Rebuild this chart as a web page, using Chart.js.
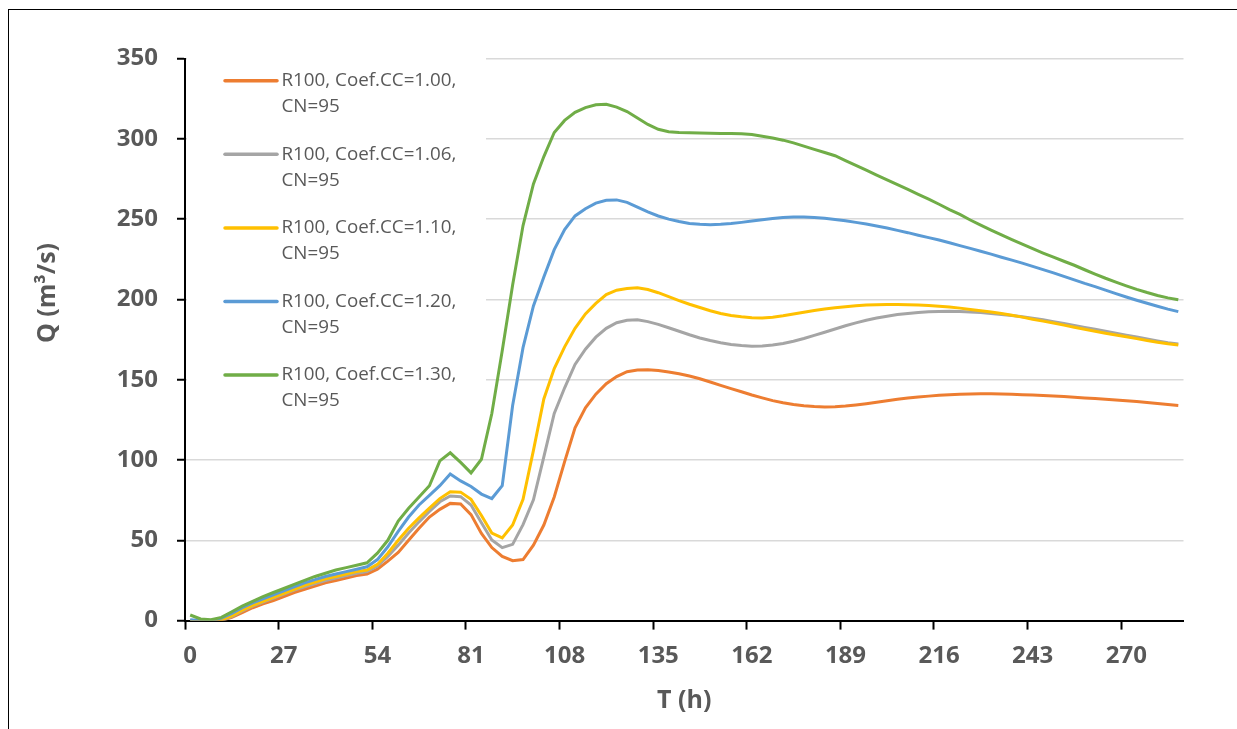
<!DOCTYPE html>
<html>
<head>
<meta charset="utf-8">
<script src="https://cdn.jsdelivr.net/npm/chart.js@4.4.1/dist/chart.umd.min.js"></script>
<style>
  html, body { margin: 0; padding: 0; background: #fff; }
  #wrap { position: relative; width: 1237px; height: 729px; overflow: hidden; }
  #chart { position: absolute; left: 0; top: 0; }
  #frame { position: absolute; left: 8px; top: 9px; right: -4px; bottom: -4px;
           border-left: 1.5px solid #000; border-top: 1.5px solid #000; pointer-events: none; }
</style>
</head>
<body>
<div id="wrap"><canvas id="chart" width="1237" height="729"></canvas><div id="frame"></div></div>
<script>
// time steps (h), one point every 3 h
const hours = [0,3,6,9,12,15,18,21,24,27,30,33,36,39,42,45,48,51,54,57,60,63,66,69,72,75,78,81,84,87,
  90,93,96,99,102,105,108,111,114,117,120,123,126,129,132,135,138,141,144,147,150,153,156,159,162,165,168,171,174,177,
  180,183,186,189,192,195,198,201,204,207,210,213,216,219,222,225,228,231,234,237,240,243,246,249,252,255,258,261,264,267,
  270,273,276,279,282,285];

const seriesNames = [
  "R100, Coef.CC=1.00, CN=95",
  "R100, Coef.CC=1.06, CN=95",
  "R100, Coef.CC=1.10, CN=95",
  "R100, Coef.CC=1.20, CN=95",
  "R100, Coef.CC=1.30, CN=95"
];
const seriesColors = ["#ED7D31", "#A5A5A5", "#FFC000", "#5B9BD5", "#70AD47"];

const q100 = [0,0,0,0,2,5,8,10.5,12.5,15,
  17.5,19.5,21.5,23.5,25,26.5,28,29,32,37,
  42.5,50,57.5,64.5,69.3,73,72.6,66,54.3,45.5,
  40,37.3,38,47,59.5,77,99,120,132.5,141,
  147.5,152,155,156,156.2,155.7,154.8,153.7,152.3,150.6,
  148.6,146.5,144.5,142.5,140.5,138.7,137,135.7,134.6,133.8,
  133.3,133.1,133.2,133.6,134.3,135.1,136,136.9,137.8,138.6,
  139.3,139.8,140.3,140.6,140.9,141.1,141.2,141.2,141.1,140.9,
  140.7,140.5,140.2,139.9,139.5,139.1,138.7,138.3,137.9,137.4,
  136.9,136.4,135.8,135.2,134.6,134];

const q106 = [0,0,0,0,2.5,6,9,11.5,14,16.5,
  19,21,23,25,26.5,28,29.5,30.5,34,40,
  47,54.5,61.5,68,74,77.6,77.2,72,61,50.2,
  45.4,47.5,59.8,75.2,102,129,145,159.5,169,176.5,
  182,185.5,187,187.3,186.2,184.5,182.4,180.2,178,176,
  174.4,173,172,171.3,170.9,171,171.6,172.6,174,175.7,
  177.6,179.6,181.6,183.6,185.4,187,188.4,189.6,190.6,191.3,
  191.9,192.3,192.5,192.6,192.5,192.2,191.8,191.3,190.7,190,
  189.2,188.3,187.3,186.2,185,183.8,182.6,181.4,180.2,179,
  177.8,176.6,175.4,174.2,173.1,172.2];

const q110 = [0,0,0,0.5,3,6.5,9.5,12,14.5,17,
  19.5,22,24,26,27.5,29,30.5,31.5,35,42,
  50,57.5,64,70,76,80.3,80,75.5,65.5,54.5,
  51.5,59.5,75.5,106,138,157,170.5,182,191,197.5,
  203,205.8,206.8,207.3,206.2,204.2,201.8,199.3,197,195,
  193,191.3,190,189.2,188.6,188.5,188.9,189.8,190.9,192,
  193.1,194,194.8,195.5,196.1,196.5,196.7,196.8,196.8,196.7,
  196.5,196.2,195.8,195.3,194.6,193.8,193,192.2,191.2,190.1,
  189,187.7,186.5,185.3,184,182.7,181.4,180.2,179,177.9,
  176.8,175.6,174.5,173.4,172.4,171.6];

const q120 = [0.5,0,0,1.5,4.5,8,11,13.5,16,18.5,
  21,23.5,25.5,27.5,29,30.5,32,33.5,38,46,
  55.5,64.5,72,78,84,91.3,87,83.5,78.8,76,
  84,134,170,196,214,231,243.5,252,256.5,260,
  261.8,262,260.5,257.5,254.5,252,250,248.5,247.3,246.8,
  246.6,246.8,247.3,248,248.8,249.6,250.4,251,251.3,251.3,
  251,250.5,249.8,249,248,247,245.8,244.5,243,241.6,
  240,238.5,237,235.3,233.5,231.8,230,228.2,226.3,224.5,
  222.6,220.6,218.6,216.6,214.4,212.2,210,208,205.8,203.6,
  201.5,199.5,197.6,195.8,194,192.4];

const q130 = [3.5,1,0.5,2,5.5,9,12,15,17.5,20,
  22.5,25,27.5,29.5,31.5,33,34.5,36,42,50,
  62,70,77,84,99.5,104.5,98.5,92,100.5,129,
  168,209,246,272,289,304,311.5,316.5,319.5,321.3,
  321.5,319.8,317,313,309,306,304.5,304,303.8,303.6,
  303.5,303.4,303.4,303.2,302.7,301.6,300.5,299.2,297.5,295.5,
  293.5,291.5,289.5,286.5,283.5,280.5,277.5,274.5,271.5,268.5,
  265.5,262.5,259.3,256,253,249.5,246.3,243.2,240.2,237.3,
  234.4,231.6,228.9,226.3,223.8,221.3,218.5,215.8,213.2,210.8,
  208.5,206.3,204.3,202.5,201,199.8];

const seriesValues = [q100, q106, q110, q120, q130];
const yTicks = [0, 50, 100, 150, 200, 250, 300, 350];
const xTitle = "T (h)";
const yTitle = "Q (m³/s)";
const labelEvery = 9;

const textGrey = "#595959";
const boldFont = (size) => ({ family: "'Open Sans', sans-serif", weight: "bold", size: size });

// legend sitting inside the plot, on a white box
const boxLegend = {
  id: "boxLegend",
  beforeDatasetsDraw(chart) {
    const ctx = chart.ctx;
    const left = chart.chartArea.left;
    ctx.save();
    ctx.fillStyle = "#fff";
    ctx.fillRect(left + 2, 50, 299, 365);
    ctx.restore();
  },
  afterDatasetsDraw(chart) {
    const ctx = chart.ctx;
    const left = chart.chartArea.left;
    ctx.save();
    ctx.font = "18.8px 'Open Sans', sans-serif";
    ctx.textBaseline = "middle";
    ctx.textAlign = "left";
    chart.data.datasets.forEach((ds, k) => {
      const y = 80.7 + 73.6 * k;
      ctx.strokeStyle = ds.borderColor;
      ctx.lineWidth = 3.5;
      ctx.lineCap = "round";
      ctx.beginPath();
      ctx.moveTo(left + 40, y);
      ctx.lineTo(left + 92, y);
      ctx.stroke();
      const cut = ds.label.lastIndexOf(", ");
      ctx.fillStyle = textGrey;
      ctx.fillText(ds.label.slice(0, cut + 1), left + 96.5, y);
      ctx.fillText(ds.label.slice(cut + 2), left + 96.5, y + 26);
    });
    ctx.restore();
  }
};

// rotated y title, placed a bit above the middle as in the original
const sideTitle = {
  id: "sideTitle",
  afterDraw(chart) {
    const ctx = chart.ctx;
    ctx.save();
    ctx.translate(47.5, 293);
    ctx.rotate(-Math.PI / 2);
    ctx.font = "bold 25px 'Open Sans', sans-serif";
    ctx.fillStyle = textGrey;
    ctx.textAlign = "center";
    ctx.textBaseline = "middle";
    ctx.fillText(yTitle, 0, 0);
    ctx.restore();
  }
};

function draw() {
  const ctx = document.getElementById("chart").getContext("2d");
  new Chart(ctx, {
    type: "line",
    data: {
      labels: hours,
      datasets: seriesNames.map((name, k) => ({
        label: name,
        data: seriesValues[k],
        borderColor: seriesColors[k],
        backgroundColor: seriesColors[k],
        borderWidth: 3,
        pointRadius: 0,
        tension: 0,
        fill: false,
        order: seriesNames.length - k
      }))
    },
    options: {
      responsive: false,
      animation: false,
      layout: { padding: { left: 0, top: 58.6, right: 53.5, bottom: 8 } },
      plugins: {
        legend: { display: false },
        tooltip: { enabled: false }
      },
      scales: {
        x: {
          type: "category",
          offset: true,
          grid: {
            offset: true,
            drawOnChartArea: false,
            tickLength: 9,
            tickWidth: 2,
            tickColor: (c) => (c.index % labelEvery === 0 ? "#000" : "rgba(0,0,0,0)")
          },
          border: { color: "#000", width: 2 },
          ticks: {
            autoSkip: false,
            maxRotation: 0,
            padding: 12,
            color: textGrey,
            font: boldFont(24),
            callback: (v, i) => (i % labelEvery === 0 ? String(hours[i]) : "")
          },
          title: {
            display: true,
            text: xTitle,
            color: textGrey,
            font: boldFont(25),
            padding: { top: 0, bottom: 5 }
          },
          afterFit: (s) => { s.height = 100.4; }
        },
        y: {
          min: 0,
          max: 350,
          afterBuildTicks: (s) => { s.ticks = yTicks.map((v) => ({ value: v })); },
          grid: {
            color: "#D9D9D9",
            lineWidth: 1.5,
            tickLength: 8,
            tickColor: "#000",
            tickWidth: 2
          },
          border: { color: "#000", width: 2 },
          ticks: {
            padding: 19,
            color: textGrey,
            font: boldFont(24)
          },
          afterFit: (s) => { s.width = 185; }
        }
      }
    },
    plugins: [boxLegend, sideTitle]
  });
}

Promise.all([
  document.fonts.load("bold 24px 'Open Sans'"),
  document.fonts.load("18px 'Open Sans'")
]).then(draw, draw);
</script>
</body>
</html>
